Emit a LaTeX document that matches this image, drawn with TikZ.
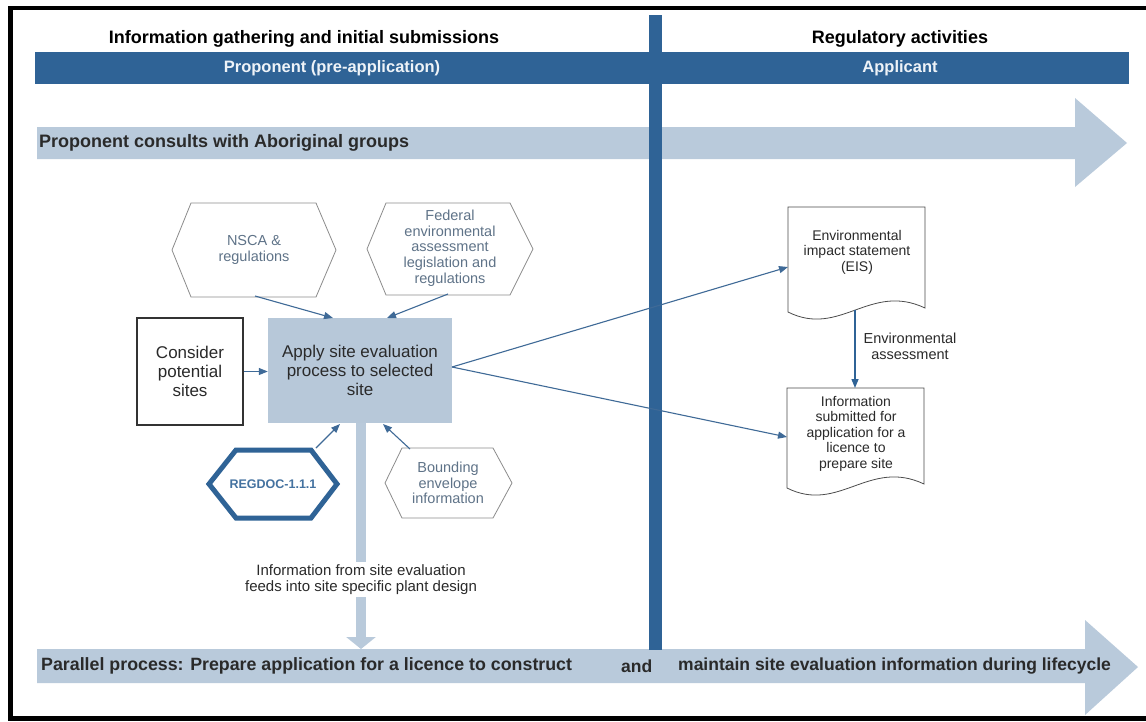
\documentclass[tikz,border=0pt]{standalone}
\usepackage{fontspec}
\setmainfont{Liberation Sans}
\usetikzlibrary{arrows.meta,calc}
\definecolor{dkblue}{HTML}{2F6396}
\definecolor{ltblue}{HTML}{B9CADB}
\definecolor{boxblue}{HTML}{B7C8D9}
\definecolor{conn}{HTML}{3F6A97}
\definecolor{hexgray}{HTML}{8C8C8C}
\definecolor{hextext}{HTML}{5F7388}
\definecolor{txt}{HTML}{2A2A2A}
\definecolor{bandtxt}{HTML}{EEF3F8}
\begin{document}
\begin{tikzpicture}[x=1pt,y=-1pt,
  hdr/.style={font=\fontsize{18}{20}\selectfont\bfseries, inner sep=0pt, text=black},
  bandlbl/.style={font=\fontsize{16.5}{18}\selectfont\bfseries, inner sep=0pt, text=bandtxt},
  arrowlbl/.style={font=\fontsize{17.5}{19}\selectfont\bfseries, inner sep=0pt, text=txt, anchor=west},
  boxtxt/.style={font=\fontsize{17}{19}\selectfont, align=center, text=txt, inner sep=0pt},
  hextxt/.style={font=\fontsize{14.5}{15.7}\selectfont, align=center, text=hextext, inner sep=0pt},
  doctxt/.style={font=\fontsize{14}{15.5}\selectfont, align=center, text=txt, inner sep=0pt},
  hexline/.style={draw=hexgray, line width=0.8pt, fill=white},
  docline/.style={draw=black!70, line width=0.8pt, fill=white},
  conline/.style={draw=conn, line width=1.1pt, -{Triangle[length=9pt,width=7pt]}},
]
\useasboundingbox (0,0) rectangle (1146,721);
\fill[white] (0,0) rectangle (1146,721);

% header
\node[hdr] (hdrA) at (304,39) {Information gathering and initial submissions};
\node[hdr] (hdrB) at (900,39) {Regulatory activities};
\fill[dkblue] (35,52) rectangle (1129,84);
\node[bandlbl] (bandA) at (332,68) {Proponent (pre-application)};
\node[bandlbl] (bandB) at (900,68) {Applicant};

% top wide arrow
\fill[ltblue] (37,127) -- (1075,127) -- (1075,98) -- (1127,143) -- (1075,187) -- (1075,159) -- (37,159) -- cycle;
\node[arrowlbl, font=\fontsize{18}{19}\selectfont\bfseries] (consult) at (39,143) {Proponent consults with Aboriginal groups};

% bottom wide arrow
\fill[ltblue] (37,649) -- (1085,649) -- (1085,620) -- (1138,667) -- (1085,715) -- (1085,683) -- (37,683) -- cycle;
\node[arrowlbl, font=\fontsize{17.8}{19}\selectfont\bfseries] (par1) at (41,666) {Parallel process: Prepare application for a licence to construct};
\node[arrowlbl] (par2) at (621,666) {and};
\node[arrowlbl] (par3) at (678,666) {maintain site evaluation information during lifecycle};

% vertical divider
\fill[dkblue] (649,15) rectangle (662,650);

% hexagons
\draw[hexline] (172,250) -- (191,203) -- (316,203) -- (336,250) -- (316,297) -- (191,297) -- cycle;
\node[hextxt] (nsca) at (254,250) {NSCA \&\\regulations};
\draw[hexline] (367,249) -- (386,203) -- (510,203) -- (533,249) -- (510,295) -- (386,295) -- cycle;
\node[hextxt] (fed) at (450,248) {Federal\\environmental\\assessment\\legislation and\\regulations};
\draw[hexline] (385,483) -- (402,448) -- (493,448) -- (512,483) -- (493,518) -- (402,518) -- cycle;
\node[hextxt] (bound) at (448,483) {Bounding\\envelope\\information};
\draw[draw=dkblue, line width=5pt, line join=miter, fill=white] (209,484) -- (236,450) -- (311,450) -- (337,484) -- (311,518) -- (236,518) -- cycle;
\node[font=\fontsize{12.5}{14}\selectfont\bfseries, text=dkblue!90, inner sep=0pt] (reg) at (273,484) {REGDOC-1.1.1};

% main boxes
\node[boxtxt, fill=boxblue, minimum width=184pt, minimum height=105pt] (main) at (360,370.5) {Apply site evaluation\\process to selected\\site};
\node[boxtxt, draw=black!80, line width=1.2pt, fill=white, minimum width=106pt, minimum height=107pt] (consider) at (190,371.5) {Consider\\potential\\sites};

% documents
\draw[docline] (788,207) -- (925,207) -- (925,308) .. controls (870,282) and (840,338) .. (788,312) -- cycle;
\node[doctxt] (eis) at (857,252) {Environmental\\impact statement\\(EIS)};
\draw[docline] (787,388) -- (924,388) -- (924,484) .. controls (869,458) and (839,514) .. (787,488) -- cycle;
\node[doctxt] (info) at (856,433.5) {Information\\submitted for\\application for a\\licence to\\prepare site};
\node[font=\fontsize{14.5}{16}\selectfont, align=center, text=txt, inner sep=0pt] (ea) at (910,346) {Environmental\\assessment};

% connector coordinates
\coordinate (nscaOut) at (255,296);
\coordinate (mainN1) at (333,318);
\coordinate (fedOut) at (448,294);
\coordinate (mainN2) at (387,318);
\coordinate (regOut) at (316,448);
\coordinate (mainS1) at (340,424);
\coordinate (bndOut) at (410,449);
\coordinate (mainS2) at (383,424);
\coordinate (mainE) at (452,367);
\coordinate (eisW) at (788,267);
\coordinate (infoW) at (787,437);
\coordinate (eisB) at (855,310);
\coordinate (infoT) at (855,388);
\coordinate (feedEnd) at (361,649);

% light down arrow with label
\draw[ltblue, line width=10pt, -{Triangle[length=12pt,width=29pt]}] (main.south -| feedEnd) -- (feedEnd);
\node[font=\fontsize{15}{15.5}\selectfont, align=center, text=txt, fill=white, inner xsep=2pt, inner ysep=3pt] (feed) at (361,579.5) {Information from site evaluation\\feeds into site specific plant design};

% connectors
\draw[conline] (nscaOut) -- (mainN1);
\draw[conline] (fedOut) -- (mainN2);
\draw[conline] (regOut) -- (mainS1);
\draw[conline] (bndOut) -- (mainS2);
\draw[conline] (consider.east) -- (consider.east -| main.west);
\draw[conline] (mainE) -- (eisW);
\draw[conline] (mainE) -- (infoW);
\draw[conline, draw=dkblue, line width=1.4pt] (eisB) -- (infoT);

% outer frame
\draw[line width=4.5pt] (10.5,8) rectangle (1200,718.5);
\end{tikzpicture}
\end{document}
